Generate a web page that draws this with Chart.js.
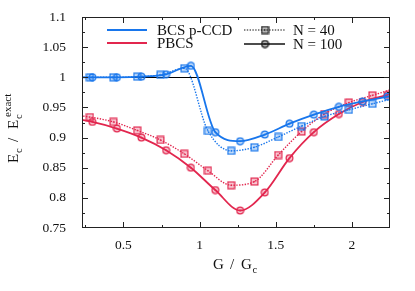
<!DOCTYPE html>
<html>
<head>
<meta charset="utf-8">
<script src="https://cdn.jsdelivr.net/npm/chart.js@4"></script>
<style>
  html, body { margin: 0; padding: 0; background: #fff; }
  #wrap { width: 415px; height: 291px; }
</style>
</head>
<body>
<div id="wrap"><canvas id="chart" width="415" height="291"></canvas></div>
<script>
// G / Gc positions of the samples (outer points lie just beyond the visible frame)
const gRatio40  = [0.126, 0.28, 0.434, 0.59, 0.743, 0.90, 1.055, 1.207, 1.36, 1.516, 1.669, 1.82, 1.98, 2.134, 2.289];
const gRatio100 = [0.135, 0.296, 0.457, 0.618, 0.78, 0.943, 1.103, 1.266, 1.428, 1.59, 1.75, 1.914, 2.07, 2.233, 2.394];

// Ec / Ec_exact
const bcs40   = [1.000, 1.000, 1.000, 1.001, 1.004, 1.015, 0.911, 0.878, 0.884, 0.901, 0.919, 0.935, 0.946, 0.956, 0.966];
const bcs100  = [1.000, 1.000, 1.000, 1.001, 1.005, 1.019, 0.909, 0.894, 0.905, 0.923, 0.938, 0.951, 0.960, 0.968, 0.976];
const pbcs40  = [0.939, 0.934, 0.926, 0.912, 0.896, 0.873, 0.845, 0.821, 0.827, 0.871, 0.910, 0.939, 0.958, 0.970, 0.982];
const pbcs100 = [0.933, 0.926, 0.915, 0.900, 0.879, 0.850, 0.813, 0.779, 0.809, 0.866, 0.909, 0.939, 0.959, 0.971, 0.983];

const xTicks = [0.5, 1, 1.5, 2];
const xMinorTicks = [0.25, 0.75, 1.25, 1.75];
const yTicks = [0.75, 0.8, 0.85, 0.9, 0.95, 1, 1.05, 1.1];
const yMinorTicks = [0.775, 0.825, 0.875, 0.925, 0.975, 1.025, 1.075];

const BLUE = 'rgb(24, 118, 236)';
const RED = 'rgb(226, 38, 78)';
const SERIF = '"Liberation Serif", "DejaVu Serif", serif';

function marker(shape, color, fill) {
  const c = document.createElement('canvas');
  c.width = 9; c.height = 9;
  const g = c.getContext('2d');
  g.strokeStyle = color;
  g.fillStyle = fill;
  g.lineWidth = 1.2;
  if (shape === 'square') {
    g.fillRect(1, 1, 7, 7);
    g.strokeRect(1.1, 1.1, 6.8, 6.8);
  } else {
    g.beginPath();
    g.arc(4.5, 4.5, 3.4, 0, Math.PI * 2);
    g.fill();
    g.stroke();
  }
  g.fillStyle = color;
  g.fillRect(3.8, 3.8, 1.4, 1.4);
  return c;
}

const sqBlue = marker('square', BLUE, 'rgba(24,118,236,0.25)');
const ciBlue = marker('circle', BLUE, 'rgba(24,118,236,0.25)');
const sqRed = marker('square', RED, 'rgba(226,38,78,0.25)');
const ciRed = marker('circle', RED, 'rgba(226,38,78,0.25)');
const sqBlack = marker('square', '#111', 'rgba(0,0,0,0.25)');
const ciBlack = marker('circle', '#111', 'rgba(0,0,0,0.25)');

const toPoints = (xs, ys) => xs.map((x, i) => ({ x, y: ys[i] }));

function series(xs, ys, color, dotted, img) {
  return {
    data: toPoints(xs, ys),
    borderColor: color,
    borderWidth: dotted ? 1.4 : 1.8,
    borderDash: dotted ? [1.4, 1.4] : [],
    pointStyle: img,
    pointRadius: 4,
    cubicInterpolationMode: 'monotone',
    fill: false
  };
}

const framePlugin = {
  id: 'frame',
  beforeDatasetsDraw(chart) {
    const { ctx, chartArea: a, scales } = chart;
    const y1 = Math.round(scales.y.getPixelForValue(1)) + 0.5;
    ctx.save();
    ctx.strokeStyle = '#000';
    ctx.lineWidth = 1;
    ctx.beginPath();
    ctx.moveTo(a.left, y1);
    ctx.lineTo(a.right, y1);
    ctx.stroke();
    ctx.restore();
  },
  afterDraw(chart) {
    const { ctx, chartArea: a, scales } = chart;
    ctx.save();
    ctx.strokeStyle = '#222';
    ctx.lineWidth = 1;
    ctx.strokeRect(a.left + 0.5, a.top + 0.5, a.right - a.left - 1, a.bottom - a.top - 1);
    ctx.beginPath();
    const xt = (v, len) => {
      const px = Math.round(scales.x.getPixelForValue(v)) + 0.5;
      if (px <= a.left + 1 || px >= a.right - 1) return;
      ctx.moveTo(px, a.bottom); ctx.lineTo(px, a.bottom - len);
      ctx.moveTo(px, a.top); ctx.lineTo(px, a.top + len);
    };
    const yt = (v, len) => {
      const py = Math.round(scales.y.getPixelForValue(v)) + 0.5;
      if (py <= a.top + 1 || py >= a.bottom - 1) return;
      ctx.moveTo(a.left, py); ctx.lineTo(a.left + len, py);
      ctx.moveTo(a.right, py); ctx.lineTo(a.right - len, py);
    };
    xTicks.forEach(v => xt(v, 6));
    xMinorTicks.forEach(v => xt(v, 3));
    yTicks.forEach(v => yt(v, 6));
    yMinorTicks.forEach(v => yt(v, 3));
    ctx.stroke();

    // legend
    ctx.fillStyle = '#111';
    ctx.textBaseline = 'alphabetic';
    ctx.textAlign = 'left';
    ctx.font = '15px ' + SERIF;
    const sample = (x0, x1, y, color, dash, width) => {
      ctx.save();
      ctx.strokeStyle = color;
      ctx.lineWidth = width;
      ctx.setLineDash(dash);
      ctx.beginPath();
      ctx.moveTo(x0, y); ctx.lineTo(x1, y);
      ctx.stroke();
      ctx.restore();
    };
    sample(107, 147, 30, BLUE, [], 1.8);
    ctx.fillText('BCS p-CCD', 157, 35);
    sample(107, 147, 43, RED, [], 1.8);
    ctx.fillText('PBCS', 157, 48);
    sample(244, 285, 30, '#111', [1.4, 1.4], 1.2);
    ctx.drawImage(sqBlack, 260.5, 25.5);
    ctx.fillText('N = 40', 293, 35);
    sample(244, 285, 44, '#111', [], 1.4);
    ctx.drawImage(ciBlack, 260.5, 39.5);
    ctx.fillText('N = 100', 293, 49);

    // x title: G / G_c
    ctx.font = '15px ' + SERIF;
    ctx.fillText('G', 213, 269);
    ctx.fillText('/', 230, 269);
    ctx.fillText('G', 241, 269);
    ctx.font = '10.5px ' + SERIF;
    ctx.fillText('c', 252.5, 273);

    // y title: E_c / E_c^exact
    ctx.translate(18, 163);
    ctx.rotate(-Math.PI / 2);
    ctx.font = '15px ' + SERIF;
    ctx.fillText('E', 0, 0);
    ctx.fillText('/', 21, 0);
    ctx.fillText('E', 34, 0);
    ctx.font = '10.5px ' + SERIF;
    ctx.fillText('c', 10, 4);
    ctx.fillText('c', 44, 4);
    ctx.font = '11px ' + SERIF;
    ctx.fillText('exact', 46, -7);
    ctx.restore();
  }
};

new Chart(document.getElementById('chart').getContext('2d'), {
  type: 'line',
  data: {
    datasets: [
      series(gRatio100, bcs100, BLUE, false, ciBlue),
      series(gRatio40, bcs40, BLUE, true, sqBlue),
      series(gRatio100, pbcs100, RED, false, ciRed),
      series(gRatio40, pbcs40, RED, true, sqRed)
    ]
  },
  options: {
    responsive: false,
    animation: false,
    devicePixelRatio: 1,
    layout: { padding: { top: 17, right: 25, left: 0, bottom: 0 } },
    plugins: { legend: { display: false }, tooltip: { enabled: false } },
    scales: {
      x: {
        type: 'linear',
        min: 0.228,
        max: 2.25,
        grid: { display: false, drawTicks: false },
        border: { display: false },
        afterBuildTicks: scale => { scale.ticks = xTicks.map(value => ({ value })); },
        afterFit: scale => {
          scale.height = 63;
          scale.paddingLeft = 0;
          scale.paddingRight = 0;
        },
        ticks: {
          padding: 9,
          color: '#111',
          font: { family: SERIF, size: 13.5 },
          callback: v => String(v)
        }
      },
      y: {
        type: 'linear',
        min: 0.75,
        max: 1.1,
        grid: { display: false, drawTicks: false },
        border: { display: false },
        afterBuildTicks: scale => { scale.ticks = yTicks.map(value => ({ value })); },
        afterFit: scale => {
          // tick padding would otherwise push the plot frame down
          scale.width = 82;
          scale.paddingTop = 0;
          scale.paddingBottom = 0;
        },
        ticks: {
          padding: 16,
          color: '#111',
          font: { family: SERIF, size: 13.5 },
          callback: v => String(+v.toFixed(2))
        }
      }
    }
  },
  plugins: [framePlugin]
});
</script>
</body>
</html>
